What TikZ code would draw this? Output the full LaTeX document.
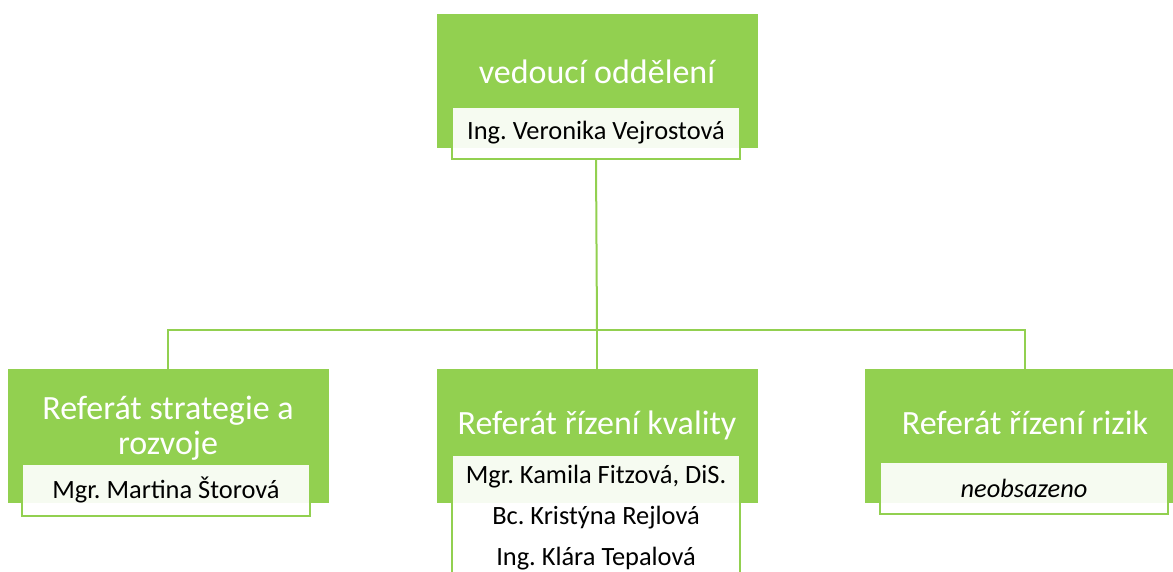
\documentclass[tikz,border=0pt]{standalone}
\usepackage{fontspec}
\setmainfont{Carlito}
\frenchspacing
\usetikzlibrary{positioning}
\definecolor{zelena}{HTML}{92D050}
\tikzset{
 referat/.style={fill=zelena, draw=zelena, minimum width=320pt, minimum height=133pt, inner sep=0pt},
 nazev/.style={text=white, font=\fontsize{34}{35}\selectfont, align=center, inner sep=0pt},
 jmeno/.style={fill=white, fill opacity=0.92, text opacity=1, draw=zelena, line width=1.8pt, minimum width=288pt, minimum height=52pt, inner sep=0pt, font=\fontsize{26.4}{41}\selectfont, align=center},
 spoj/.style={draw=zelena, line width=2pt}
}

\begin{document}
\begin{tikzpicture}[x=1pt,y=-1pt]
 \clip (0,0) rectangle (1173,571);
 % vedouci
 \node[referat] (vedouci) at (597,81) {};
 \node[nazev] (vedouciT) at (597,72) {vedoucí oddělení};
 \node[jmeno] (vedouciJm) at (596,133) {Ing. Veronika Vejrostová};
 % referaty
 \node[referat] (strategie) at (168,435.5) {};
 \node[nazev] (strategieT) at (168,428) {Referát strategie a\\rozvoje};
 \node[jmeno] (strategieJm) at (166,490) {Mgr. Martina Štorová};
 \node[referat] (kvalita) at (597,435.5) {};
 \node[nazev] (kvalitaT) at (597,425) {Referát řízení kvality};
 \node[jmeno, anchor=north, text height=111pt, text depth=40pt] (kvalitaJm) at (596,454) {Mgr. Kamila Fitzová, DiS.\\Bc. Kristýna Rejlová\\Ing. Klára Tepalová};
 \node[referat] (rizika) at (1025,435.5) {};
 \node[nazev] (rizikaT) at (1025,423) {Referát řízení rizik};
 \node[jmeno] (rizikaJm) at (1024,488) {\itshape neobsazeno};
 % spoje
 \coordinate (rozcesti) at (597,330);
 \draw[spoj] (vedouciJm.south) -- (rozcesti);
 \draw[spoj] (rozcesti) -| (strategie.north);
 \draw[spoj] (rozcesti) -- (kvalita.north);
 \draw[spoj] (rozcesti) -| (rizika.north);
\end{tikzpicture}
\end{document}
